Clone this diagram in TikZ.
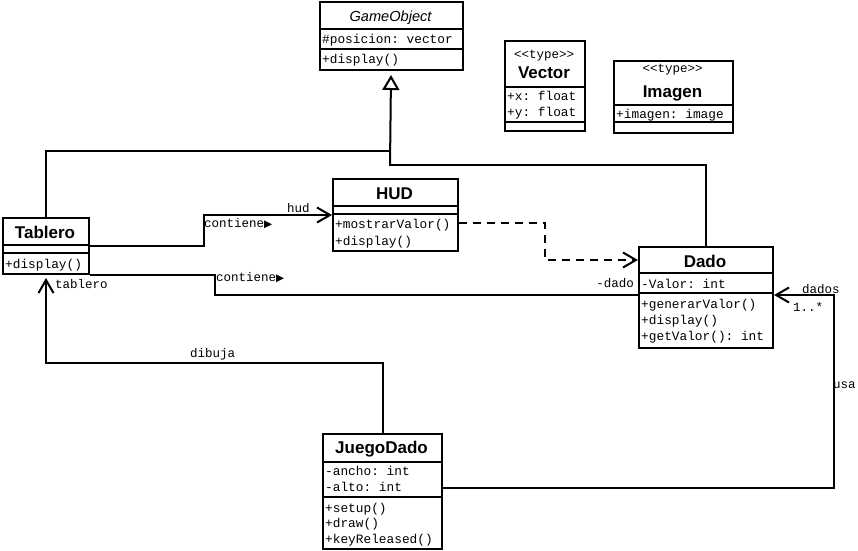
\documentclass[tikz,border=0pt]{standalone}
\usepackage{fontspec}
\setmainfont{Liberation Sans}
\setmonofont{Liberation Mono}
\newfontfamily\symfont{DejaVu Sans}
\usetikzlibrary{arrows.meta,calc}

\begin{document}
\begin{tikzpicture}[x=1pt,y=-1pt,
  cls/.style={draw, line width=2pt, inner sep=0, anchor=north west, fill=white},
  sepline/.style={line width=2pt},
  ttl/.style={font=\fontsize{17}{19}\selectfont\bfseries, anchor=base, inner sep=0},
  ittl/.style={font=\fontsize{14.6}{17}\selectfont\itshape, anchor=base, inner sep=0},
  mem/.style={font=\fontsize{12.8}{15}\selectfont\ttfamily, anchor=base west, inner sep=0},
  lbl/.style={font=\fontsize{12.5}{15}\selectfont\ttfamily, anchor=base west, inner sep=0},
  stereo/.style={font=\fontsize{12.5}{15}\selectfont\ttfamily, anchor=base, inner sep=0},
  conn/.style={line width=2pt, line join=miter},
  navarrow/.style={-{Straight Barb[length=13pt,width=15pt,line width=2pt]}},
  inherit/.style={-{Triangle[open,length=15pt,width=17pt,line width=2pt,fill=white]}},
  dep/.style={dash pattern=on 8pt off 6pt},
]
\useasboundingbox (0,0) rectangle (858,550);
\newcommand{\tri}{{\symfont\fontsize{10.5}{11}\selectfont ▶}}

% ---------- class boxes ----------
\node[cls, minimum width=143pt, minimum height=68pt] (go) at (319,1) {};
\node[cls, minimum width=80pt, minimum height=90pt] (vec) at (504,40) {};
\node[cls, minimum width=119pt, minimum height=72pt] (img) at (613,60) {};
\node[cls, minimum width=86pt, minimum height=56pt] (tab) at (2,217) {};
\node[cls, minimum width=125pt, minimum height=72pt] (hud) at (332,178) {};
\node[cls, minimum width=134pt, minimum height=101pt] (dado) at (638,246) {};
\node[cls, minimum width=119pt, minimum height=115pt] (jd) at (322,433) {};

% ---------- connectors ----------
\coordinate (j1) at (390,151);
\coordinate (j2) at (390,165);
\draw[conn] (tab.north) |- (j1);
\draw[conn] (dado.north) |- (j2) -- (j1);
\draw[conn, inherit] (j2) -- ($(go.south)+(-0.5,4)$);

% Tablero -> HUD
\draw[conn, navarrow] (tab.east) -- ++(114,0) |- (hud.west);
% Tablero -- Dado
\draw[conn] (tab.south east) -- ++(125,0) |- ($(dado.north west)+(0,49)$);
% HUD -> Dado (dependency)
\draw[conn, dep, navarrow] ($(hud.north east)+(0,45)$) -- ++(86,0) |- ($(dado.north west)+(0,14)$);
% JuegoDado -> Tablero
\draw[conn, navarrow, shorten >=3pt] (jd.north) |- ($(tab.south)+(0,88)$) -- (tab.south);
% JuegoDado -> Dado
\draw[conn, navarrow] ($(jd.north east)+(0,55)$) -- ++(391,0) |- ($(dado.north east)+(0,49)$);

% ---------- compartments ----------
\draw[sepline] ($(go.north west)+(0,28)$) -- ($(go.north east)+(0,28)$);
\draw[sepline] ($(go.north west)+(0,48)$) -- ($(go.north east)+(0,48)$);
\draw[sepline] ($(vec.north west)+(0,47)$) -- ($(vec.north east)+(0,47)$);
\draw[sepline] ($(vec.north west)+(0,82)$) -- ($(vec.north east)+(0,82)$);
\draw[sepline] ($(img.north west)+(0,45)$) -- ($(img.north east)+(0,45)$);
\draw[sepline] ($(img.north west)+(0,62)$) -- ($(img.north east)+(0,62)$);
\draw[sepline] ($(tab.north west)+(0,28)$) -- ($(tab.north east)+(0,28)$);
\draw[sepline] ($(tab.north west)+(0,36)$) -- ($(tab.north east)+(0,36)$);
\draw[sepline] ($(hud.north west)+(0,28)$) -- ($(hud.north east)+(0,28)$);
\draw[sepline] ($(hud.north west)+(0,36)$) -- ($(hud.north east)+(0,36)$);
\draw[sepline] ($(dado.north west)+(0,27)$) -- ($(dado.north east)+(0,27)$);
\draw[sepline] ($(dado.north west)+(0,47)$) -- ($(dado.north east)+(0,47)$);
\draw[sepline] ($(jd.north west)+(0,29)$) -- ($(jd.north east)+(0,29)$);
\draw[sepline] ($(jd.north west)+(0,64)$) -- ($(jd.north east)+(0,64)$);

% ---------- GameObject ----------
\node[ittl] (goT) at (390.5,21) {GameObject};
\node[mem] (goA) at (322,43) {\#posicion: vector};
\node[mem] (goO) at (322,63) {+display()};

% ---------- Vector ----------
\node[stereo] (vecS) at (544,58) {<<type>>};
\node[ttl] (vecT) at (544,78) {Vector};
\node[mem] (vecA1) at (507,100) {+x: float};
\node[mem] (vecA2) at (507,116) {+y: float};

% ---------- Imagen ----------
\node[stereo] (imgS) at (672.5,72) {<<type>>};
\node[ttl] (imgT) at (672.5,97) {Imagen};
\node[mem] (imgA) at (616,118) {+imagen: image};

% ---------- Tablero ----------
\node[ttl] (tabT) at (45,238) {Tablero};
\node[mem] (tabO) at (5,268) {+display()};

% ---------- HUD ----------
\node[ttl] (hudT) at (394.5,199) {HUD};
\node[mem] (hudO1) at (335,228) {+mostrarValor()};
\node[mem] (hudO2) at (335,245) {+display()};

% ---------- Dado ----------
\node[ttl] (dadoT) at (705,267) {Dado};
\node[mem] (dadoA) at (641,288) {-Valor: int};
\node[mem] (dadoO1) at (641,308) {+generarValor()};
\node[mem] (dadoO2) at (641,324) {+display()};
\node[mem] (dadoO3) at (641,340) {+getValor(): int};

% ---------- JuegoDado ----------
\node[ttl] (jdT) at (381.5,453) {JuegoDado};
\node[mem] (jdA1) at (325,475) {-ancho: int};
\node[mem] (jdA2) at (325,491) {-alto: int};
\node[mem] (jdO1) at (325,512) {+setup()};
\node[mem] (jdO2) at (325,527) {+draw()};
\node[mem] (jdO3) at (325,543) {+keyReleased()};

% ---------- connector labels ----------
\node[lbl] (lHud) at (287,212) {hud};
\node[lbl] (lCont1) at (204,227) {contiene\tri};
\node[lbl] (lCont2) at (216,281) {contiene\tri};
\node[lbl] (lTab) at (55,288) {tablero};
\node[lbl, anchor=base east] (lDado) at (634,287) {-dado};
\node[lbl] (lDib) at (190,357) {dibuja};
\node[lbl] (lDados) at (802,293) {dados};
\node[lbl] (lMult) at (793,311) {1..*};
\node[lbl] (lUsa) at (833,388) {usa};
\end{tikzpicture}
\end{document}
